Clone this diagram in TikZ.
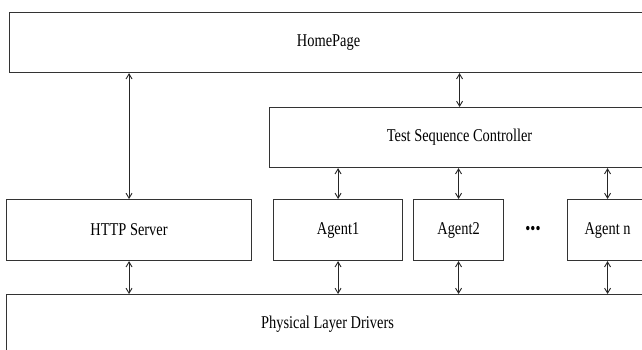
\documentclass[tikz,border=0pt]{standalone}
\usepackage{fontspec}
\setmainfont{Liberation Serif}[FakeStretch=0.8]
\usetikzlibrary{arrows.meta}
\begin{document}
\begin{tikzpicture}[x=1pt,y=-1pt,
  box/.style={draw=black!80,line width=1.1pt,rectangle,inner sep=0pt,anchor=north west,
    font=\fontsize{18}{20}\selectfont},
  arr/.style={draw=black!85,line width=0.9pt,{Straight Barb[length=5pt,width=6pt]}-{Straight Barb[length=5pt,width=6pt]}}]
\path[use as bounding box,clip] (0,0) rectangle (642,349);
\fill[white] (0,0) rectangle (642,349);
\node[box,minimum width=638pt,minimum height=60pt] (hp) at (9,12) {HomePage};
\node[box,minimum width=380pt,minimum height=60pt] (tsc) at (269,107) {Test Sequence Controller};
\node[box,minimum width=245pt,minimum height=61pt] (hs) at (6,199) {HTTP Server};
\node[box,minimum width=129pt,minimum height=61pt] (a1) at (273,199) {Agent1};
\node[box,minimum width=90pt,minimum height=61pt] (a2) at (413,199) {Agent2};
\node[box,minimum width=80pt,minimum height=61pt] (an) at (567,199) {Agent n};
\node[font=\fontsize{18}{20}\selectfont,inner sep=0pt] (dots) at (533,230) {•••};
\node[box,minimum width=642pt,minimum height=60pt] (pl) at (6,294) {Physical Layer Drivers};
\draw[arr] (hp.south -| hs.north) -- (hs.north);
\draw[arr] (hp.south -| tsc.north) -- (tsc.north);
\draw[arr] (tsc.south -| a1.north) -- (a1.north);
\draw[arr] (tsc.south -| a2.north) -- (a2.north);
\draw[arr] (tsc.south -| an.north) -- (an.north);
\draw[arr] (hs.south) -- (hs.south |- pl.north);
\draw[arr] (a1.south) -- (a1.south |- pl.north);
\draw[arr] (a2.south) -- (a2.south |- pl.north);
\draw[arr] (an.south) -- (an.south |- pl.north);
\end{tikzpicture}
\end{document}
